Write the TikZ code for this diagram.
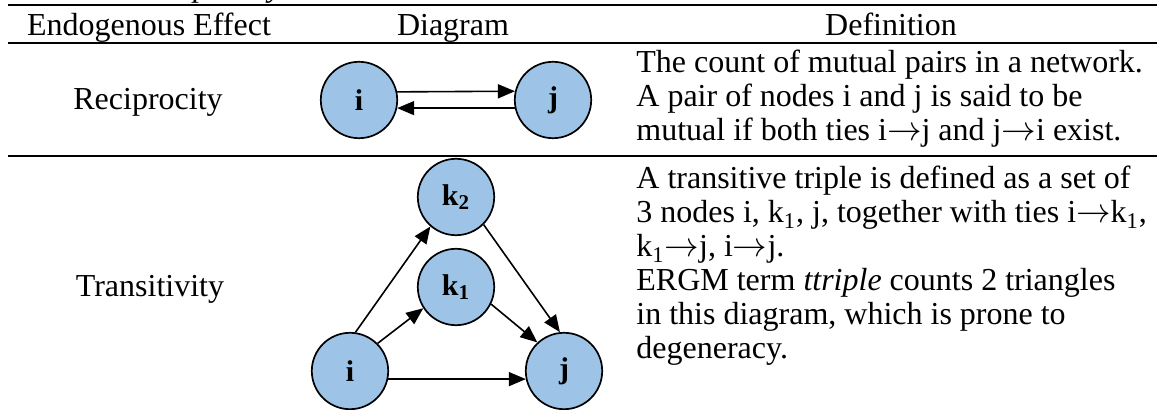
\documentclass[tikz,border=0pt]{standalone}
\usepackage{fontspec}
\setmainfont{Liberation Serif}
\usetikzlibrary{arrows.meta}
\definecolor{nodeblue}{HTML}{9DC3E6}
\newcommand{\tto}{\ensuremath{\rightarrow}}
\begin{document}
\begin{tikzpicture}[x=0.5pt,y=-0.5pt,
  txt/.style={inner sep=0pt, font=\fontsize{16}{18}\selectfont},
  hdr/.style={txt, anchor=base},
  deftext/.style={txt, anchor=base west},
  vert/.style={circle, draw=black, line width=0.85pt, fill=nodeblue,
    minimum size=38.2pt, inner sep=0pt, font=\fontsize{15}{17}\selectfont\bfseries},
  tie/.style={line width=0.8pt, -{Triangle[length=8.5pt,width=7pt]}},
  tablerule/.style={line width=1.1pt}]
\useasboundingbox (0,0) rectangle (1157,410);

% cropped caption fragments
\node[txt, anchor=base west, font=\fontsize{16}{18}\selectfont\itshape] (capp) at (193,-3) {p};
\node[txt, anchor=base west, font=\fontsize{16}{18}\selectfont\itshape] (capy) at (268,-3) {y};

% rules
\coordinate (r1a) at (8,5);   \coordinate (r1b) at (1157,5);
\coordinate (r2a) at (8,43);  \coordinate (r2b) at (1157,43);
\coordinate (r3a) at (8,156); \coordinate (r3b) at (1157,156);
\draw[tablerule] (r1a) -- (r1b);
\draw[tablerule] (r2a) -- (r2b);
\draw[tablerule] (r3a) -- (r3b);

% header
\node[hdr] (h1) at (149,36) {Endogenous Effect};
\node[hdr] (h2) at (453,36) {Diagram};
\node[hdr] (h3) at (891,36) {Definition};

% row labels
\node[hdr] (lrec) at (148,110) {Reciprocity};
\node[hdr] (ltra) at (150,297) {Transitivity};

% reciprocity definition
\node[deftext] (d11) at (636,73) {The count of mutual pairs in a network.};
\node[deftext] (d12) at (636,107) {A pair of nodes i and j is said to be};
\node[deftext] (d13) at (636,141) {mutual if both ties i\tto j and j\tto i exist.};

% transitivity definition
\node[deftext] (d21) at (636,189) {A transitive triple is defined as a set of};
\node[deftext] (d22) at (636,223) {3 nodes i, k\textsubscript{1}, j, together with ties i\tto k\textsubscript{1},};
\node[deftext] (d23) at (636,257) {k\textsubscript{1}\tto j, i\tto j.};
\node[deftext] (d24) at (636,291) {ERGM term \textit{ttriple} counts 2 triangles};
\node[deftext] (d25) at (636,325) {in this diagram, which is prone to};
\node[deftext] (d26) at (636,359) {degeneracy.};

% reciprocity diagram
\node[vert] (ri) at (359,100) {i};
\node[vert] (rj) at (553,100) {j};
\draw[tie] (ri.12.5) -- (rj.167.5);
\draw[tie] (rj.192.5) -- (ri.-12.5);

% transitivity diagram
\node[vert] (ti) at (350,371) {i};
\node[vert] (tk1) at (456,287) {k\textsubscript{1}};
\node[vert] (tk2) at (456,197) {k\textsubscript{2}};
\node[vert] (tj) at (564,371) {j};
\draw[tie] (ti.82) -- (tk2.229);
\draw[tie] (ti.45) -- (tk1.213);
\draw[tie] (tk1.-26) -- (tj.133);
\draw[tie] (tk2.-45) -- (tj.96);
\draw[tie] (ti.-12.5) -- (tj.192.5);
\end{tikzpicture}
\end{document}
